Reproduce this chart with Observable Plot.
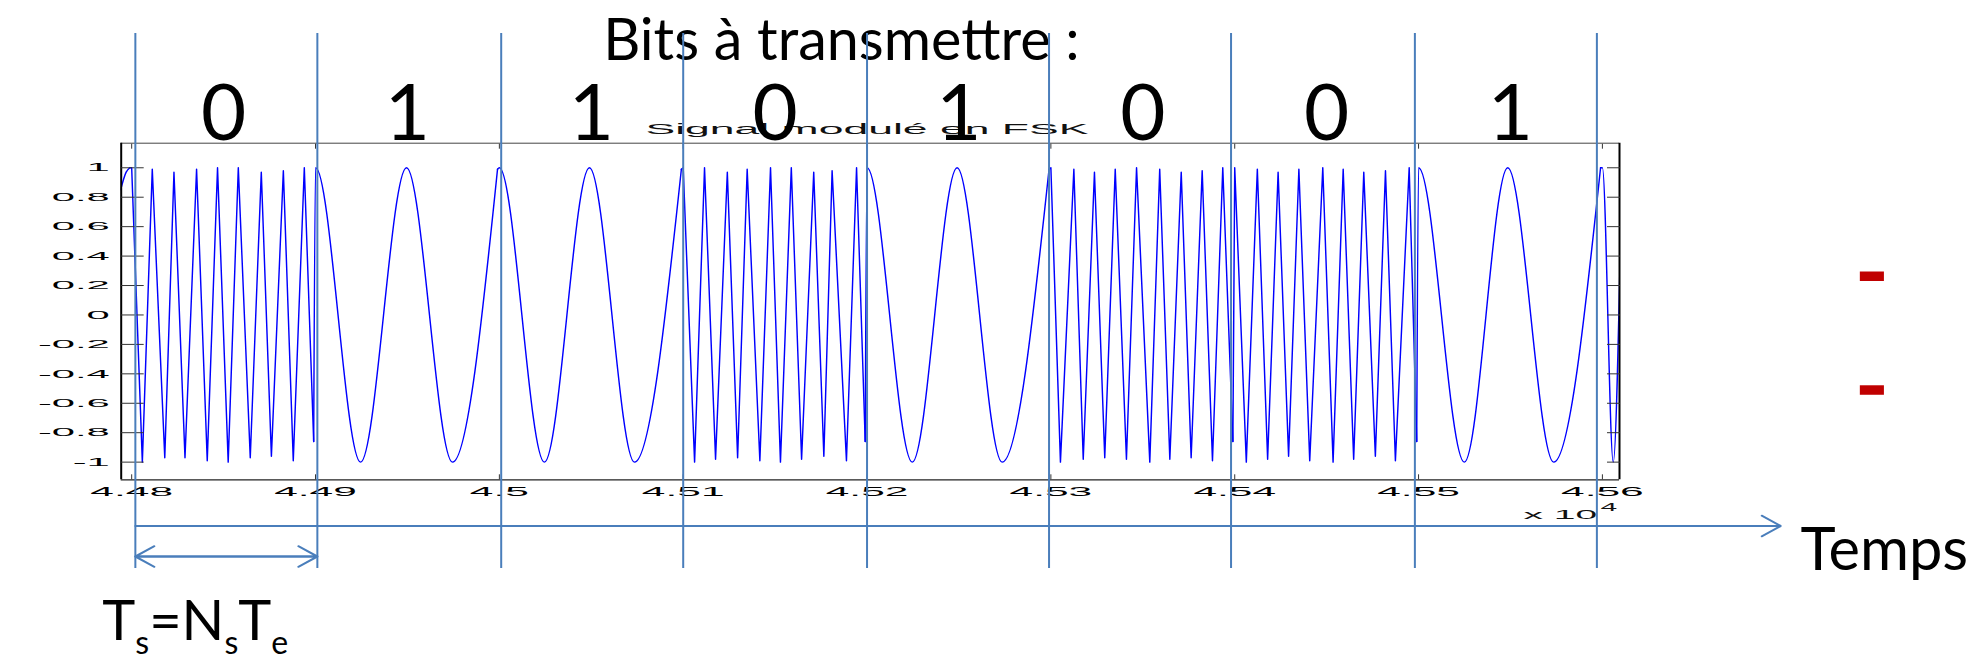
<!DOCTYPE html>
<html>
<head>
<meta charset="utf-8">
<script src="https://cdn.jsdelivr.net/npm/d3@7"></script>
<script src="https://cdn.jsdelivr.net/npm/@observablehq/plot@0.6"></script>
<style>
  html, body { margin: 0; padding: 0; background: #fff; overflow: hidden; }
</style>
</head>
<body>
<div id="chart"></div>
<script>
// ---------------- data ----------------
const bits = [0, 1, 1, 0, 1, 0, 0, 1];
const bitStarts = [44800, 44900, 45000, 45100, 45200, 45300, 45400, 45500];
const samplesPerBit = 100;
// hand-drawn bit boundary markers on the slide (sample index)
const boundaryMarks = [44802, 44901, 45001, 45100, 45200, 45299, 45398, 45498, 45597];
const xTicks = [44800, 44900, 45000, 45100, 45200, 45300, 45400, 45500, 45600];
const yTicks = [-1, -0.8, -0.6, -0.4, -0.2, 0, 0.2, 0.4, 0.6, 0.8, 1];
const xDomain = [44794.3, 45609.3];
const yDomain = [-1.12, 1.167];

// FSK signal: extremes (peaks / troughs / symbol edges)
const signalT = [
  44794, 44797, 44799,
  // bit 0
  44800, 44805.8, 44811.2, 44818, 44823, 44829, 44835.3, 44841.1, 44846.7, 44852.5,
  44858, 44864.5, 44870.5, 44876, 44882.5, 44887.9, 44893.9, 44899,
  // bit 1
  44900, 44924.5, 44949.5, 44974.5, 44999,
  // bit 1
  45000, 45024.5, 45049, 45073.5, 45099,
  // bit 0
  45100, 45106.2, 45111.6, 45117.6, 45124, 45129.6, 45134.8, 45141.7, 45147.5, 45152.9,
  45158.8, 45164.4, 45171, 45176.5, 45181, 45188.8, 45194.3, 45199,
  // bit 1
  45200, 45224.6, 45249, 45273.5, 45299,
  // bit 0
  45300, 45305.2, 45312.5, 45317.6, 45323.7, 45329.3, 45335, 45341.1, 45346.6, 45353.8,
  45359.2, 45364.7, 45370.9, 45376.3, 45382.3, 45387.9, 45393.5, 45399,
  // bit 0
  45400, 45406.3, 45412.3, 45417.9, 45423.6, 45429.3, 45434.9, 45440.8, 45447.9, 45453.5,
  45459, 45464.7, 45470.2, 45476.5, 45482, 45487.4, 45494.9, 45499,
  // bit 1
  45500, 45524.9, 45548.5, 45573.5, 45599,
  // next symbol, cut by the frame
  45600, 45605.9, 45610
];
const signalY = [
  0.85, 0.97, 1,
  1, -1, 0.99, -0.97, 0.97, -0.97, 0.99, -0.99, 1, -1,
  1, -0.97, 0.97, -0.96, 0.98, -0.99, 1, -0.86,
  1, -1, 1, -1, 0.99,
  1, -1, 1, -1, 0.99,
  1, -1, 1, -0.98, 0.97, -0.97, 0.99, -0.99, 1, -1,
  1, -0.98, 0.97, -0.96, 0.98, -0.99, 1, -0.86,
  1, -1, 1, -1, 0.99,
  1, -1, 0.99, -0.98, 0.97, -0.97, 0.99, -0.98, 1, -1,
  0.99, -0.98, 0.97, -0.97, 0.98, -0.99, 1, -0.86,
  1, -1, 0.99, -0.98, 0.97, -0.96, 0.99, -0.99, 1, -1,
  0.99, -0.98, 0.97, -0.96, 0.98, -0.99, 1, -0.86,
  1, -1, 1, -1, 1,
  1, -1, 0.6
];

// ---------------- chart ----------------
// split the trace into symbols (each symbol also starts at the previous symbol's last point)
const pts = signalT.map((t, i) => ({t, v: signalY[i], k: Math.floor((t - bitStarts[0]) / samplesPerBit)}));
const segs = [];
pts.forEach((p, i) => {
  if (i > 0 && pts[i - 1].k !== p.k) segs.push({t: pts[i - 1].t, v: pts[i - 1].v, k: p.k});
  segs.push(p);
});
const isZeroBit = k => k >= 0 && k < bits.length && bits[k] === 0;

const slideBlue = "#4a7ebb";
const slideFont = "Lato, 'Open Sans', sans-serif";
const fmtY = d => String(Math.round(d * 10) / 10);
const fmtX = d => String(+(d / 1e4).toFixed(2));
const headLen = 16.2;
const traceStyle = {x: "t", y: "v", z: "k", stroke: "#0000ff", strokeWidth: 1.45, clip: true};

const svg = Plot.plot({
  width: 1973,
  height: 658,
  marginLeft: 120.7,
  marginRight: 354,
  marginTop: 142.7,
  marginBottom: 178.7,
  style: {fontFamily: "'Liberation Sans', Arial, sans-serif", fontSize: "12px", background: "#fff", color: "#000", overflow: "visible"},
  x: {domain: xDomain, label: null},
  y: {domain: yDomain, label: null},
  marks: [
    // MATLAB figure
    Plot.line(segs.filter(d => isZeroBit(d.k)), {...traceStyle, curve: "linear"}),
    Plot.line(segs.filter(d => !isZeroBit(d.k)), {...traceStyle, curve: "monotone-x"}),
    Plot.ruleY([yDomain[1]], {stroke: "#444", strokeWidth: 1}),
    Plot.ruleY([yDomain[0]], {stroke: "#222", strokeWidth: 1.2}),
    Plot.ruleX(xDomain, {stroke: "#000", strokeWidth: 2}),
    Plot.axisY(yTicks, {anchor: "left", tickSize: -23, tickPadding: 34.4, tickFormat: fmtY, fontSize: 11.6, stroke: "#333"}),
    Plot.axisY(yTicks, {anchor: "right", tickSize: -13, tickFormat: () => "", stroke: "#333"}),
    Plot.axisX(xTicks, {anchor: "bottom", tickSize: -5, tickPadding: 12.4, tickFormat: fmtX, fontSize: 12.5, stroke: "#333"}),
    Plot.axisX(xTicks, {anchor: "top", tickSize: -5, tickFormat: () => "", stroke: "#333"}),
    Plot.text(["Signal modulé en FSK"], {frameAnchor: "top", lineAnchor: "bottom", dx: -3.4, dy: -9.4, fontSize: 15, fill: "#111"}),
    Plot.text(["x 10"], {frameAnchor: "bottom-right", textAnchor: "end", lineAnchor: "bottom", dx: -22.3, dy: 39, fontSize: 13, fill: "#111"}),
    Plot.text(["4"], {frameAnchor: "bottom-right", textAnchor: "start", lineAnchor: "bottom", dx: -19, dy: 30.7, fontSize: 10, fill: "#111"}),
    // slide overlay
    Plot.text(bits, {x: (d, i) => bitStarts[i] + samplesPerBit / 2, text: d => String(d), frameAnchor: "top", lineAnchor: "bottom", dy: -3.4, fontSize: 78, fontFamily: slideFont, fill: "#000"}),
    Plot.text(["Bits à transmettre :"], {frameAnchor: "top-left", textAnchor: "start", lineAnchor: "bottom", dx: 482, dy: -83.4, fontSize: 57.5, fontFamily: slideFont, fill: "#000"}),
    Plot.text(["Temps"], {frameAnchor: "bottom-right", textAnchor: "start", lineAnchor: "bottom", dx: 181, dy: 90, fontSize: 59.6, fontFamily: slideFont, fill: "#000"}),
    Plot.text(["Ts=NsTe"], {frameAnchor: "bottom-left", textAnchor: "start", lineAnchor: "bottom", dx: -19, dy: 160, fontSize: 56, fontFamily: slideFont, fill: "#000"}),
    Plot.ruleX(boundaryMarks, {stroke: slideBlue, strokeWidth: 2, insetTop: -109.7, insetBottom: -88.7}),
    Plot.arrow([0], {x1: () => boundaryMarks[0], x2: () => 45697, y1: () => yDomain[0], y2: () => yDomain[0], dy: 46.2,
      stroke: slideBlue, strokeWidth: 2, headLength: headLen, headAngle: 57}),
    Plot.arrow([[boundaryMarks[0], boundaryMarks[1]], [boundaryMarks[1], boundaryMarks[0]]],
      {x1: d => d[0], x2: d => d[1], y1: () => yDomain[0], y2: () => yDomain[0], dy: 76.7,
       stroke: slideBlue, strokeWidth: 2, headLength: headLen, headAngle: 57}),
    Plot.ruleY([0.263, -0.51], {x1: () => 45740.3, x2: () => 45753.4, stroke: "#c00000", strokeWidth: 9.5})
  ]
});

// MATLAB figure text was stretched horizontally in the slide
const stretch = (sel, sx) => sel.each(function () {
  const t = this.getAttribute("transform") || "";
  this.setAttribute("transform", t + ` scale(${sx},1)`);
});
const root = d3.select(svg);
root.selectAll('g[aria-label="y-axis tick label"] text').call(stretch, 3.6);
root.selectAll('g[aria-label="x-axis tick label"] text').call(stretch, 3.4);
root.selectAll("text").filter(function () { return this.textContent === "Signal modulé en FSK"; }).call(stretch, 2.97);
root.selectAll("text").filter(function () { return this.textContent === "x 10" || this.textContent === "4"; })
  .filter(function () { return this.closest('g[aria-label^="x-axis"]') === null; }).call(stretch, 3.0);

// subscripts of Ts = Ns Te
root.selectAll("text").filter(function () { return this.textContent === "Ts=NsTe"; }).each(function () {
  const t = d3.select(this);
  t.text(null);
  const parts = [["T", 0], ["s", 1], ["=N", 0], ["s", 1], ["T", 0], ["e", 1]];
  let cur = 0;
  for (const [s, sub] of parts) {
    const sp = t.append("tspan").text(s);
    const target = sub ? 14 : 0;
    if (target !== cur) sp.attr("dy", target - cur);
    cur = target;
    if (sub) sp.attr("font-size", 32);
  }
});

document.getElementById("chart").appendChild(svg);
</script>
</body>
</html>
